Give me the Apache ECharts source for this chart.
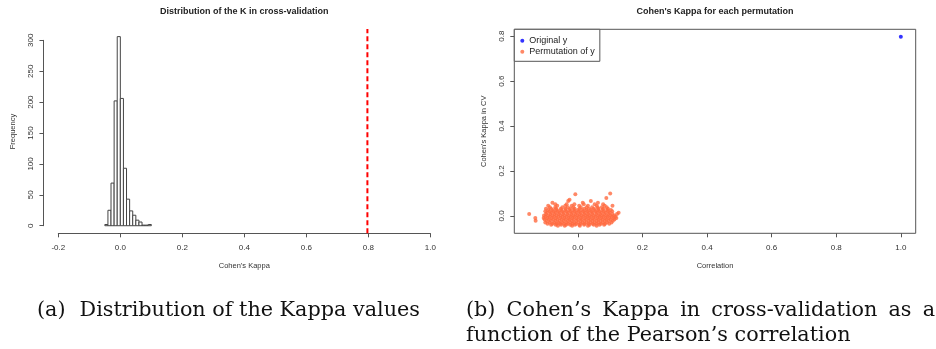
<!DOCTYPE html>
<html>
<head>
<meta charset="utf-8">
<script src="https://cdn.jsdelivr.net/npm/echarts@6/dist/echarts.min.js"></script>
<style>
  html, body { margin: 0; padding: 0; background: #fff; }
  #chart { width: 936px; height: 349px; }
</style>
</head>
<body>
<div id="chart"></div>
<script>
// Kappa histogram over the permutation runs: lower bin edges (width 0.01) and counts
const binLower = [-0.05, -0.04, -0.03, -0.02, -0.01, 0.00, 0.01, 0.02, 0.03, 0.04, 0.05, 0.06, 0.07, 0.08, 0.09];
const binWidth = 0.01;
const binCounts = [2, 25, 69, 202, 306, 206, 93, 43, 24, 17, 9, 6, 1, 1, 2];

// Kappa obtained with the original (unpermuted) response
const originalKappa = 0.797;
const originalCorrelation = 1.0;

// Tick values
const kappaTicks = [-0.2, 0.0, 0.2, 0.4, 0.6, 0.8, 1.0];
const freqTicks = [0, 50, 100, 150, 200, 250, 300];
const corrTicks = [0.0, 0.2, 0.4, 0.6, 0.8, 1.0];
const cvKappaTicks = [0.0, 0.2, 0.4, 0.6, 0.8];

// Permuted responses: rows of [kappa in CV, correlations observed at that kappa]
const permRows = [
  [-0.044, [-0.062, -0.041, -0.018, 0.006, 0.031, 0.058]],
  [-0.040, [-0.083, -0.069, -0.052, -0.037, -0.024, -0.009, 0.004, 0.019, 0.036, 0.049, 0.067, 0.081]],
  [-0.035, [-0.094, -0.079, -0.066, -0.055, -0.043, -0.031, -0.017, -0.006, 0.009, 0.021, 0.033, 0.046, 0.058, 0.071, 0.084, 0.097]],
  [-0.029, [-0.101, -0.088, -0.074, -0.061, -0.049, -0.036, -0.024, -0.012, 0.001, 0.014, 0.027, 0.039, 0.052, 0.064, 0.077, 0.090, 0.104]],
  [-0.022, [-0.131, -0.097, -0.084, -0.070, -0.057, -0.044, -0.031, -0.019, -0.005, 0.008, 0.020, 0.033, 0.045, 0.058, 0.070, 0.083, 0.095, 0.108]],
  [-0.016, [-0.103, -0.090, -0.077, -0.064, -0.050, -0.038, -0.026, -0.013, 0.000, 0.012, 0.025, 0.038, 0.050, 0.063, 0.076, 0.088, 0.101, 0.113]],
  [-0.010, [-0.132, -0.106, -0.094, -0.081, -0.068, -0.055, -0.042, -0.029, -0.017, -0.004, 0.009, 0.022, 0.034, 0.047, 0.060, 0.072, 0.085, 0.097, 0.110, 0.119]],
  [-0.004, [-0.100, -0.087, -0.074, -0.061, -0.048, -0.035, -0.022, -0.010, 0.003, 0.016, 0.029, 0.041, 0.054, 0.067, 0.079, 0.092, 0.105, 0.116]],
  [0.002, [-0.105, -0.092, -0.079, -0.066, -0.053, -0.040, -0.027, -0.014, -0.001, 0.012, 0.025, 0.037, 0.050, 0.063, 0.075, 0.088, 0.100, 0.112]],
  [0.008, [-0.151, -0.099, -0.085, -0.072, -0.059, -0.046, -0.033, -0.020, -0.007, 0.006, 0.019, 0.031, 0.044, 0.057, 0.069, 0.082, 0.095, 0.107, 0.121]],
  [0.014, [-0.096, -0.083, -0.070, -0.057, -0.044, -0.031, -0.018, -0.005, 0.008, 0.021, 0.034, 0.046, 0.059, 0.072, 0.085, 0.098, 0.126]],
  [0.020, [-0.101, -0.088, -0.075, -0.062, -0.049, -0.036, -0.023, -0.010, 0.003, 0.016, 0.029, 0.042, 0.055, 0.067, 0.080, 0.093, 0.106]],
  [0.026, [-0.092, -0.078, -0.065, -0.052, -0.039, -0.026, -0.013, 0.000, 0.013, 0.026, 0.039, 0.052, 0.064, 0.077, 0.090, 0.102]],
  [0.032, [-0.099, -0.083, -0.068, -0.053, -0.038, -0.024, -0.010, 0.005, 0.020, 0.034, 0.049, 0.063, 0.078, 0.093]],
  [0.038, [-0.087, -0.070, -0.048, -0.031, -0.014, 0.009, 0.027, 0.044, 0.061, 0.074, 0.089]],
  [0.045, [-0.092, -0.064, -0.039, -0.019, 0.004, 0.031, 0.058, 0.083, 0.107]],
  [0.052, [-0.070, -0.035, -0.011, 0.018, 0.052, 0.078]],
  [0.058, [-0.079, 0.015, 0.062]],
  [0.066, [-0.030, 0.040]],
  [0.072, [-0.026]],
  [0.079, [0.088]],
  [0.096, [-0.008]],
  [0.100, [0.100]]
];

// Sub-figure captions
const captionA = ['(a)', 'Distribution of the Kappa values'];
const captionB1 = ['(b)', 'Cohen\u2019s', 'Kappa', 'in', 'cross-validation', 'as', 'a'];
const captionB2 = 'function of the Pearson\u2019s correlation';

const permPoints = [];
permRows.forEach(([k, xs]) => xs.forEach(x => permPoints.push([x, k])));

// R-style plot region: data range padded by 4% on each side
function padRange(values) {
  const lo = Math.min(...values), hi = Math.max(...values);
  const pad = 0.04 * (hi - lo);
  return [lo - pad, hi + pad];
}
const corrRange = padRange(permPoints.map(p => p[0]).concat([originalCorrelation]));
const cvKappaRange = padRange(permPoints.map(p => p[1]).concat([originalKappa]));
const histYRange = padRange([0].concat(binCounts));

const AXIS = '#555';
const TXT = '#333';
const LABEL_FONT = 'Liberation Sans, Arial, sans-serif';
const SERIF = 'DejaVu Serif';
const fmt1 = v => v.toFixed(1);

// --- caption layout (serif text under each panel) ---
const measureCtx = document.createElement('canvas').getContext('2d');
function textWidth(str, size) {
  measureCtx.font = size + 'px "' + SERIF + '"';
  return measureCtx.measureText(str).width;
}
const labelGap = 14;                       // quad after "(a)"
const capLeftA = 37, capRightA = 420;      // caption (a) extent
const capLeftB = 466, capRightB = 935;     // caption (b) text block
const refSize = 20;
const capSize = refSize * (capRightA - capLeftA - labelGap) /
  (textWidth(captionA[0], refSize) + textWidth(captionA[1], refSize));
const capFont = capSize.toFixed(2) + 'px "' + SERIF + '"';
const capLine1Y = 311, capLine2Y = 336;

const captionGraphics = [];
function capText(str, x, y) {
  captionGraphics.push({ type: 'text', x, y, style: { text: str, fill: '#111', font: capFont,
    textAlign: 'left', textVerticalAlign: 'middle' } });
}
capText(captionA[0], capLeftA, capLine1Y);
capText(captionA[1], capLeftA + textWidth(captionA[0], capSize) + labelGap, capLine1Y);
// first line of (b) is justified across the text block
const wordWidths = captionB1.map(w => textWidth(w, capSize));
const spare = (capRightB - capLeftB - wordWidths.reduce((a, b) => a + b, 0)) / (captionB1.length - 1);
let cursor = capLeftB;
captionB1.forEach((w, i) => { capText(w, cursor, capLine1Y); cursor += wordWidths[i] + spare; });
capText(captionB2, capLeftB, capLine2Y);

const chart = echarts.init(document.getElementById('chart'), null, { renderer: 'canvas' });

chart.setOption({
  animation: false,
  backgroundColor: '#fff',
  textStyle: { fontFamily: LABEL_FONT },
  grid: [
    // histogram panel: grid spans the tick range, axes offset outward
    { left: 58.33, top: 40.33, width: 372, height: 185.4 },
    // scatter panel: grid is the boxed plot region
    { left: 514.3, top: 29.3, width: 401.4, height: 204, show: true,
      borderColor: AXIS, borderWidth: 1, backgroundColor: 'transparent' }
  ],
  xAxis: [
    {
      gridIndex: 0, type: 'value',
      min: kappaTicks[0], max: kappaTicks[kappaTicks.length - 1], interval: 0.2,
      offset: 7.6,
      axisLine: { show: true, onZero: false, lineStyle: { color: AXIS, width: 1 } },
      axisTick: { show: true, length: 4, lineStyle: { color: AXIS } },
      axisLabel: { fontSize: 8, color: TXT, margin: 10, formatter: fmt1 },
      splitLine: { show: false }
    },
    {
      gridIndex: 1, type: 'value', position: 'bottom',
      min: corrRange[0], max: corrRange[1],
      axisLine: { show: false, onZero: false },
      axisTick: { show: true, length: 4, customValues: corrTicks, lineStyle: { color: AXIS } },
      axisLabel: { fontSize: 8, color: TXT, margin: 10, customValues: corrTicks, formatter: fmt1 },
      splitLine: { show: false }
    }
  ],
  yAxis: [
    {
      gridIndex: 0, type: 'value',
      min: freqTicks[0], max: freqTicks[freqTicks.length - 1], interval: 50,
      offset: 14.9,
      axisLine: { show: true, onZero: false, lineStyle: { color: AXIS, width: 1 } },
      axisTick: { show: true, length: 4, lineStyle: { color: AXIS } },
      axisLabel: { fontSize: 8, color: TXT, margin: 9, rotate: 90 },
      splitLine: { show: false }
    },
    {
      gridIndex: 1, type: 'value', position: 'left',
      min: cvKappaRange[0], max: cvKappaRange[1],
      axisLine: { show: false, onZero: false },
      axisTick: { show: true, length: 4, customValues: cvKappaTicks, lineStyle: { color: AXIS } },
      axisLabel: { fontSize: 8, color: TXT, margin: 9, rotate: 90, customValues: cvKappaTicks, formatter: fmt1 },
      splitLine: { show: false }
    }
  ],
  legend: {
    orient: 'vertical',
    left: 514.3, top: 29.3,
    padding: [7, 5, 5, 6],
    itemGap: 2,
    itemWidth: 4, itemHeight: 4,
    icon: 'circle',
    borderColor: AXIS, borderWidth: 1, borderRadius: 0,
    backgroundColor: '#fff',
    selectedMode: false,
    textStyle: { fontSize: 9, color: '#222', fontFamily: LABEL_FONT },
    data: ['Original y', 'Permutation of y']
  },
  series: [
    {
      type: 'custom',
      name: 'Frequency',
      xAxisIndex: 0, yAxisIndex: 0,
      clip: false,
      data: binLower.map((lo, i) => [lo, lo + binWidth, binCounts[i]]),
      encode: { x: [0, 1], y: 2 },
      renderItem(params, api) {
        const a = api.coord([api.value(0), 0]);
        const b = api.coord([api.value(1), api.value(2)]);
        return {
          type: 'rect',
          shape: { x: a[0], y: b[1], width: b[0] - a[0], height: a[1] - b[1] },
          style: { fill: '#fff', stroke: '#444', lineWidth: 1 }
        };
      }
    },
    {
      type: 'line',
      name: 'Original kappa',
      xAxisIndex: 0, yAxisIndex: 0,
      clip: false,
      symbol: 'none',
      data: [[originalKappa, histYRange[0]], [originalKappa, histYRange[1]]],
      lineStyle: { color: '#FF0000', width: 2, type: [5, 3] }
    },
    {
      type: 'scatter',
      name: 'Permutation of y',
      xAxisIndex: 1, yAxisIndex: 1,
      symbol: 'circle', symbolSize: 4,
      itemStyle: { color: '#FF6A40' },
      data: permPoints
    },
    {
      type: 'scatter',
      name: 'Original y',
      xAxisIndex: 1, yAxisIndex: 1,
      symbol: 'circle', symbolSize: 4,
      itemStyle: { color: '#0000FF' },
      data: [[originalCorrelation, originalKappa]]
    }
  ],
  graphic: [
    { type: 'text', x: 244.3, y: 12, style: { text: 'Distribution of the K in cross-validation', fill: '#222',
      font: 'bold 9px ' + LABEL_FONT, textAlign: 'center', textVerticalAlign: 'middle' } },
    { type: 'text', x: 244.3, y: 265.7, style: { text: "Cohen's Kappa", fill: TXT,
      font: '7.5px ' + LABEL_FONT, textAlign: 'center', textVerticalAlign: 'middle' } },
    { type: 'text', x: 12.7, y: 131.5, rotation: Math.PI / 2, style: { text: 'Frequency', fill: TXT,
      font: '7.5px ' + LABEL_FONT, textAlign: 'center', textVerticalAlign: 'middle' } },
    { type: 'text', x: 715, y: 12, style: { text: "Cohen's Kappa for each permutation", fill: '#222',
      font: 'bold 9px ' + LABEL_FONT, textAlign: 'center', textVerticalAlign: 'middle' } },
    { type: 'text', x: 715, y: 265.7, style: { text: 'Correlation', fill: TXT,
      font: '7.5px ' + LABEL_FONT, textAlign: 'center', textVerticalAlign: 'middle' } },
    { type: 'text', x: 484, y: 131.3, rotation: Math.PI / 2, style: { text: "Cohen's Kappa in CV", fill: TXT,
      font: '7.5px ' + LABEL_FONT, textAlign: 'center', textVerticalAlign: 'middle' } }
  ].concat(captionGraphics)
});
</script>
</body>
</html>
